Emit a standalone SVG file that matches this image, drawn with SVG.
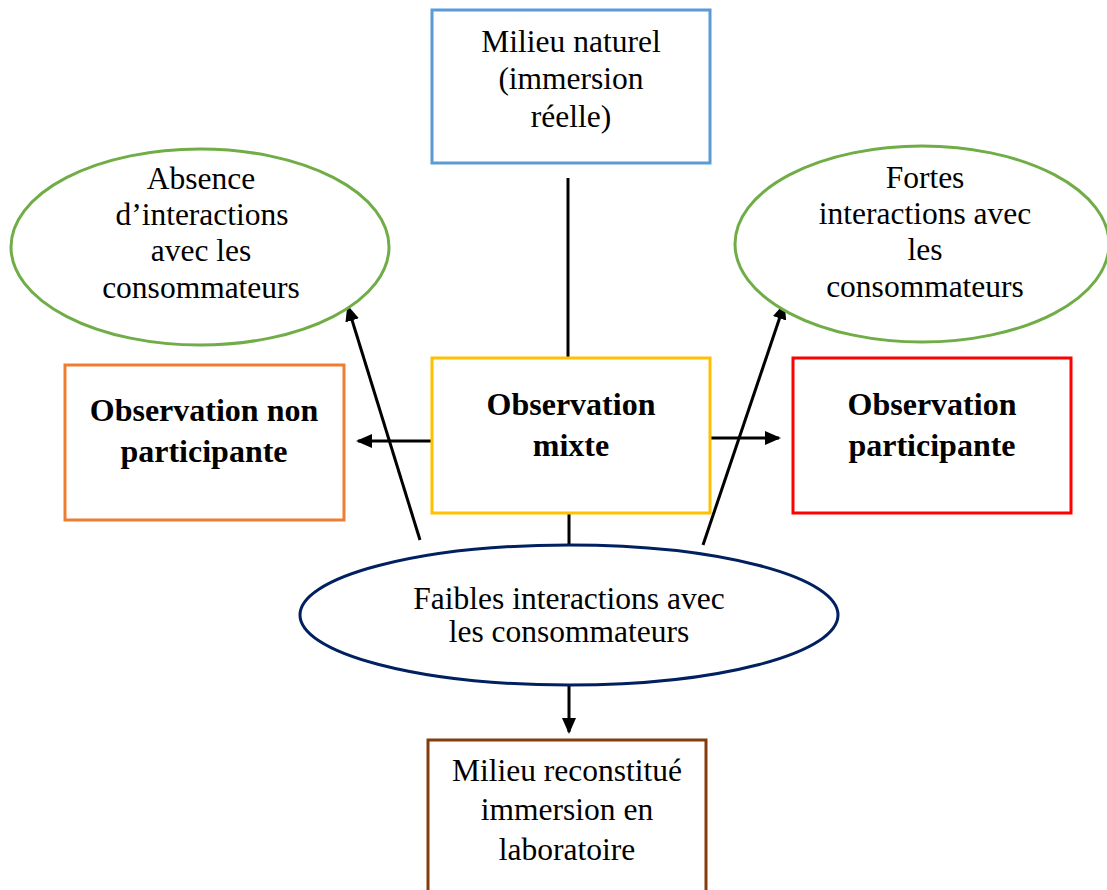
<svg xmlns="http://www.w3.org/2000/svg" width="1107" height="890" viewBox="0 0 1107 890">
<style>
text{font-family:"Liberation Serif","Times New Roman",serif;font-size:31.5px;fill:#000;text-anchor:middle}
.b{font-weight:bold;font-size:32px}
.n{fill:#fff;stroke-width:3}
.c{stroke:#000;stroke-width:3;fill:none}
</style>
<defs>
<marker id="ah2" markerWidth="16" markerHeight="14" refX="14" refY="7" orient="auto" markerUnits="userSpaceOnUse" viewBox="0 0 16 14">
<path d="M0,0 L16,7 L0,14 Z" fill="#000"/>
</marker>
</defs>
<g id="connectors">
<line class="c" x1="568" y1="178" x2="568" y2="358"/>
<line class="c" x1="569" y1="513" x2="569" y2="545"/>
<line class="c" x1="432" y1="441" x2="358" y2="441" marker-end="url(#ah2)"/>
<line class="c" x1="711" y1="438" x2="779" y2="438" marker-end="url(#ah2)"/>
<line class="c" x1="420" y1="540" x2="348" y2="307" marker-end="url(#ah2)"/>
<line class="c" x1="703" y1="545" x2="784" y2="305" marker-end="url(#ah2)"/>
<line class="c" x1="569" y1="686" x2="569" y2="732" marker-end="url(#ah2)"/>
</g>
<g id="milieu-naturel">
<rect class="n" x="432" y="10" width="278" height="153" stroke="#5B9BD5"/>
<text x="571" y="52">Milieu naturel</text>
<text x="571" y="89">(immersion</text>
<text x="571" y="127">réelle)</text>
</g>
<g id="absence">
<ellipse class="n" cx="200" cy="247" rx="189" ry="98" stroke="#70AD47"/>
<text x="201" y="189">Absence</text>
<text x="202" y="225">d’interactions</text>
<text x="201" y="261">avec les</text>
<text x="201" y="298">consommateurs</text>
</g>
<g id="fortes">
<ellipse class="n" cx="922" cy="244" rx="187" ry="98" stroke="#70AD47"/>
<text x="925" y="188">Fortes</text>
<text x="925" y="224">interactions avec</text>
<text x="925" y="260">les</text>
<text x="925" y="297">consommateurs</text>
</g>
<g id="obs-non-participante">
<rect class="n" x="65" y="365" width="279" height="155" stroke="#ED7D31"/>
<text class="b" x="204" y="421">Observation non</text>
<text class="b" x="204" y="462">participante</text>
</g>
<g id="obs-mixte">
<rect class="n" x="432" y="358" width="278" height="155" stroke="#FFC000"/>
<text class="b" x="571" y="415">Observation</text>
<text class="b" x="571" y="456">mixte</text>
</g>
<g id="obs-participante">
<rect class="n" x="793" y="358" width="278" height="155" stroke="#FF0000"/>
<text class="b" x="932" y="415">Observation</text>
<text class="b" x="932" y="456">participante</text>
</g>
<g id="faibles">
<ellipse class="n" cx="569" cy="615" rx="269" ry="70" stroke="#002060"/>
<text x="569" y="609">Faibles interactions avec</text>
<text x="569" y="642">les consommateurs</text>
</g>
<g id="milieu-reconstitue">
<rect class="n" x="428" y="740" width="278" height="160" stroke="#843C0C"/>
<text x="567" y="781">Milieu reconstitué</text>
<text x="567" y="820">immersion en</text>
<text x="567" y="860">laboratoire</text>
</g>
</svg>
